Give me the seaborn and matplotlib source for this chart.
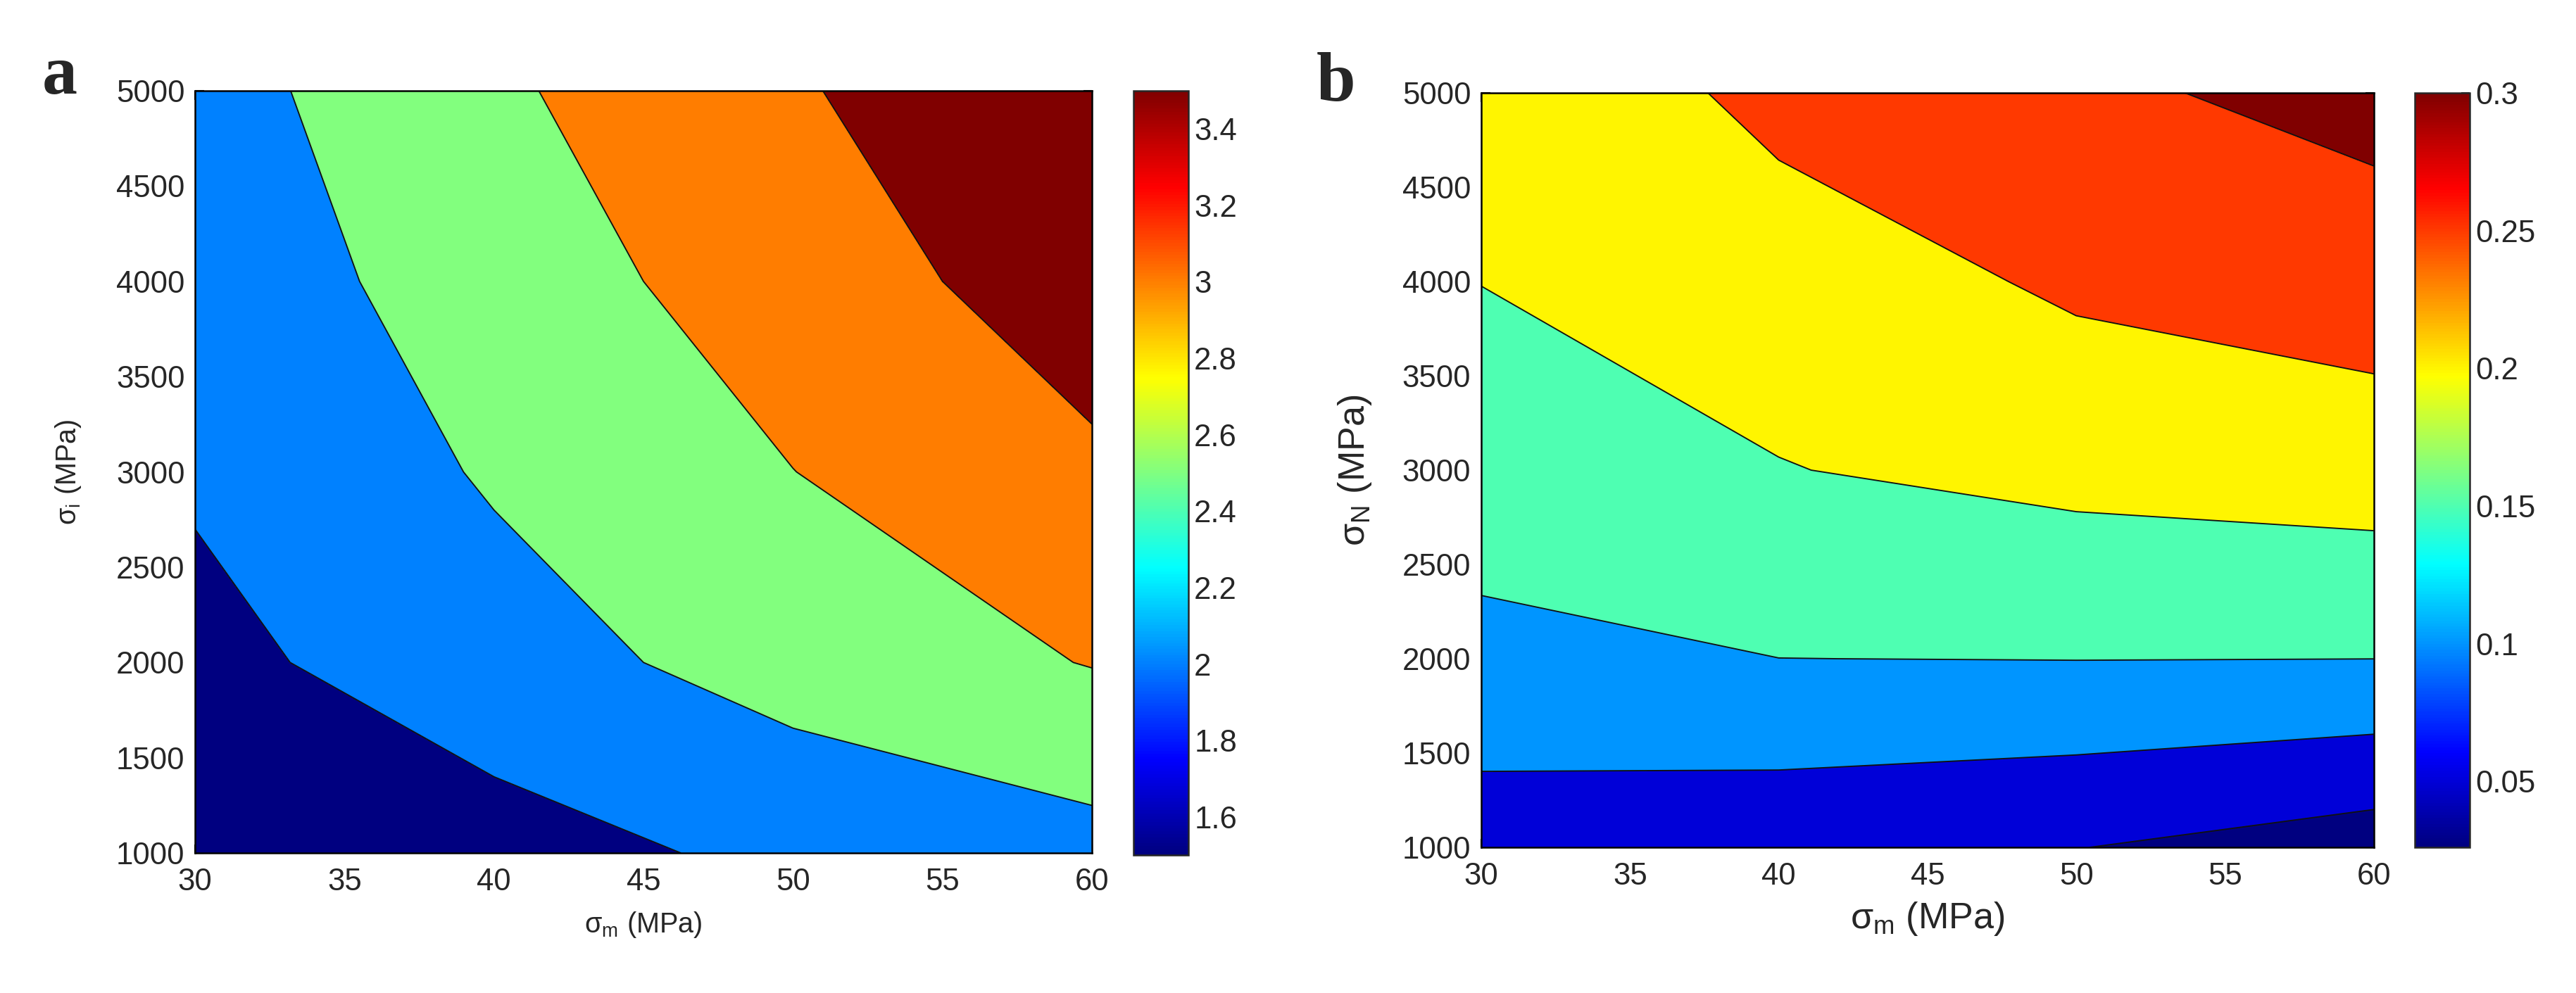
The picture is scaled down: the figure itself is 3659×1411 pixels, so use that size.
import matplotlib
matplotlib.use("Agg")
import matplotlib.pyplot as plt
import matplotlib.ticker as mticker
from matplotlib.colors import Normalize
from matplotlib.cm import ScalarMappable
import numpy as np
import seaborn as sns

sigma_m = [30, 40, 50, 60]
sigma_y = [1000, 2000, 3000, 4000, 5000]

# panel a : rows = sigma_i, columns = sigma_m
z_a = [
    [1.52, 1.80, 2.12, 2.327],
    [1.86, 2.30, 2.70, 3.02],
    [2.06, 2.55, 2.995, 3.418],
    [2.20, 2.745, 3.255, 3.745],
    [2.30, 2.925, 3.425, 4.175],
]
levels_a = [2.0, 2.5, 3.0, 3.5]
clim_a = (1.5, 3.5)
cbar_ticks_a = [1.6, 1.8, 2.0, 2.2, 2.4, 2.6, 2.8, 3.0, 3.2, 3.4]

# panel b : rows = sigma_N, columns = sigma_m
z_b = [
    [0.0764, 0.0654, 0.0512, 0.0249],
    [0.135, 0.1498, 0.1508, 0.1501],
    [0.1797, 0.1983, 0.2139, 0.2236],
    [0.2005, 0.2229, 0.258, 0.2753],
    [0.2019, 0.265, 0.291, 0.3156],
]
levels_b = [0.05, 0.10, 0.15, 0.20, 0.25, 0.30]
clim_b = (0.026, 0.3)
cbar_ticks_b = [0.05, 0.1, 0.15, 0.2, 0.25, 0.3]

x_ticks = [30, 35, 40, 45, 50, 55, 60]
y_ticks = [1000, 1500, 2000, 2500, 3000, 3500, 4000, 4500, 5000]

# STYLE
sns.set_style("ticks")
plt.rcParams['font.family'] = ['Liberation Sans', 'DejaVu Sans']
plt.rcParams['mathtext.fontset'] = 'custom'
plt.rcParams['mathtext.rm'] = 'Liberation Sans'

# matlab style jet
jet = sns.blend_palette(
    [(0, 0, 0.5), (0, 0, 1), (0, 0.5, 1), (0, 1, 1), (0.5, 1, 0.5),
     (1, 1, 0), (1, 0.5, 0), (1, 0, 0), (0.5, 0, 0)],
    n_colors=256, as_cmap=True)

fig = plt.figure(figsize=(3659 / 300, 1411 / 300), dpi=300)

ax_a = fig.add_axes([0.0757, 0.1410, 0.3482, 0.7675])
cax_a = fig.add_axes([0.4400, 0.1389, 0.0213, 0.7697])
ax_b = fig.add_axes([0.5750, 0.1467, 0.3465, 0.7597])
cax_b = fig.add_axes([0.9374, 0.1467, 0.0213, 0.7597])


def contour_panel(ax, cax, z, levels, clim, cticks, ylab, lab_size):
    z = np.array(z)
    full_levels = [z.min()] + list(levels) + [max(z.max(), levels[-1] + 1e-6)]
    norm = Normalize(*clim)
    region_cols = [jet(norm(np.clip(lv, *clim))) for lv in full_levels[:-1]]
    region_cols[0] = jet(0.0)
    ax.contourf(sigma_m, sigma_y, z, levels=full_levels, colors=region_cols)
    ax.contour(sigma_m, sigma_y, z, levels=levels, colors='#111111',
               linewidths=0.45)
    ax.set_xlim(30, 60)
    ax.set_ylim(1000, 5000)
    ax.set_xticks(x_ticks)
    ax.set_yticks(y_ticks)
    ax.tick_params(direction='in', top=True, right=True, length=3, width=0.5,
                   labelsize=10.5, color='k')
    ax.tick_params(axis='x', pad=5)
    ax.tick_params(axis='y', pad=3.5)
    for sp in ax.spines.values():
        sp.set_linewidth(0.6)
        sp.set_color('k')
    ax.set_xlabel('σ$_\\mathregular{m}$ (MPa)', fontsize=lab_size)
    ax.set_ylabel(ylab, fontsize=lab_size)

    cb = fig.colorbar(ScalarMappable(norm=norm, cmap=jet), cax=cax)
    cb.set_ticks(cticks)
    cb.ax.yaxis.set_major_formatter(mticker.FormatStrFormatter('%g'))
    cb.ax.tick_params(direction='in', length=3, width=0.5, labelsize=10.5,
                      pad=2)
    cb.outline.set_linewidth(0.6)
    return ax


contour_panel(ax_a, cax_a, z_a, levels_a, clim_a, cbar_ticks_a,
              'σ$_\\mathregular{i}$ (MPa)', 9.5)
ax_a.xaxis.set_label_coords(0.5, -0.075)
ax_a.yaxis.set_label_coords(-0.125, 0.5)

contour_panel(ax_b, cax_b, z_b, levels_b, clim_b, cbar_ticks_b,
              'σ$_\\mathregular{N}$ (MPa)', 12.5)
ax_b.xaxis.set_label_coords(0.5, -0.07)
ax_b.yaxis.set_label_coords(-0.121, 0.5)

fig.text(0.0164, 0.906, 'a', fontsize=24, fontweight='bold',
         family='Liberation Serif')
fig.text(0.511, 0.899, 'b', fontsize=24, fontweight='bold',
         family='Liberation Serif')

plt.savefig('out.png', dpi=300)
